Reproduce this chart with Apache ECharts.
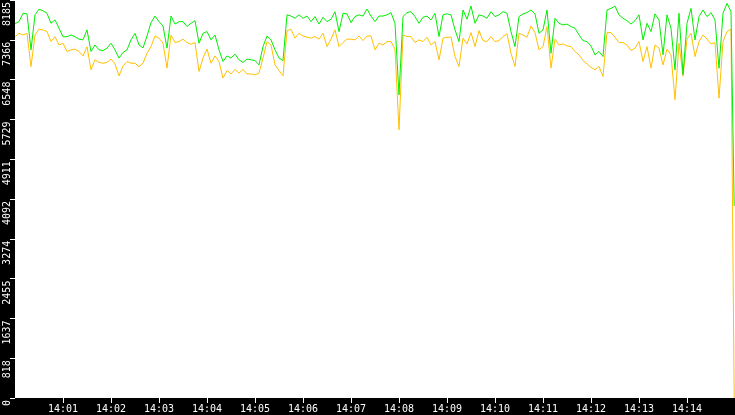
<!DOCTYPE html>
<html>
<head>
<meta charset="utf-8">
<script src="https://cdn.jsdelivr.net/npm/echarts@6/dist/echarts.min.js"></script>
<style>
  html, body { margin: 0; padding: 0; background: #000; }
  #main { width: 735px; height: 415px; }
</style>
</head>
<body>
<div id="main"></div>
<script>
// seconds after 14:00:00, one sample every 5 s
var sampleStep = 5;
var xMax = 900;

// upper line (green)
var greenValues = [
  7700, 7740, 7910, 7900, 7160, 7880, 7995, 7965, 7910, 7705,
  7775, 7605, 7430, 7430, 7465, 7430, 7380, 7365, 7570, 7125,
  7260, 7160, 7145, 7195, 7295, 7160, 6990, 7105, 7160, 7365,
  7500, 7260, 7200, 7445, 7720, 7855, 7740, 7650, 7195, 7855,
  7690, 7740, 7740, 7640, 7705, 7760, 7295, 7500, 7535, 7365,
  7465, 7160, 6920, 7035, 6990, 7070, 6955, 6900, 6970, 6955,
  6940, 6850, 7227, 7445, 7365, 7160, 6990, 6940, 7880, 7855,
  7810, 7880, 7810, 7855, 7740, 7845, 7690, 7830, 7740, 7790,
  7945, 7535, 7910, 7900, 7720, 7845, 7880, 7855, 8000, 7855,
  7740, 7855, 7855, 7880, 7925, 7705, 6235, 7843, 7925, 7945,
  7843, 7705, 7830, 7855, 7775, 7910, 7433, 7880, 7900, 7880,
  7570, 7330, 7980, 7790, 8060, 7705, 7880, 7855, 7810, 7945,
  7843, 7880, 7945, 7911, 7535, 7227, 7843, 7900, 7925, 7980,
  7900, 7500, 7570, 7980, 7091, 7810, 7706, 7672, 7690, 7638,
  7604, 7467, 7350, 7330, 7240, 7057, 7125, 7022, 7980, 8014,
  8060, 7880, 7810, 7760, 7690, 7760, 7880, 7364, 7706, 7535,
  7900, 7775, 7057, 7880, 7604, 6749, 7911, 6650, 7706, 8014,
  7364, 7843, 7980, 7843, 7925, 7775, 6783, 7911, 8117, 7945,
  3950
];

// lower line (orange)
var orangeValues = [
  7430, 7500, 7465, 7500, 6815, 7465, 7585, 7570, 7535, 7330,
  7430, 7260, 7295, 7125, 7160, 7175, 7125, 7035, 7225, 6750,
  6955, 6900, 6885, 6900, 6970, 6870, 6625, 6830, 6920, 6885,
  6885, 6815, 6885, 7090, 7225, 7445, 7400, 7295, 6785, 7465,
  7310, 7330, 7380, 7310, 7275, 7310, 6715, 6990, 7175, 6885,
  7035, 6920, 6580, 6735, 6665, 6760, 6680, 6760, 6665, 6665,
  6645, 6680, 6990, 7330, 7260, 6850, 6735, 6625, 7555, 7585,
  7400, 7500, 7445, 7420, 7400, 7433, 7380, 7500, 7227, 7380,
  7570, 7227, 7310, 7380, 7380, 7365, 7445, 7350, 7445, 7445,
  7160, 7296, 7260, 7330, 7330, 7175, 5517, 7465, 7433, 7433,
  7310, 7365, 7330, 7420, 7260, 7330, 6955, 7400, 7420, 7420,
  7022, 6817, 7400, 7282, 7515, 7227, 7555, 7350, 7330, 7433,
  7330, 7350, 7433, 7490, 7090, 6817, 7500, 7465, 7420, 7650,
  7515, 7159, 7227, 7638, 6785, 7380, 7260, 7282, 7240, 7227,
  7125, 7057, 6940, 6870, 6800, 6750, 6817, 6612, 7515, 7515,
  7420, 7310, 7310, 7260, 7145, 7195, 7330, 6920, 7227, 6785,
  7260, 7195, 6850, 7175, 7057, 6133, 7296, 6620, 7380, 7500,
  7022, 7330, 7465, 7380, 7282, 7310, 6167, 7330, 7535, 7585,
  0
];

var yMax = 8185;
var yStep = 818.5;

function toPairs(values) {
  var out = [];
  for (var i = 0; i < values.length; i++) {
    // last sample sits just inside the right edge
    out.push([Math.min(i * sampleStep, xMax - 1), values[i]]);
  }
  return out;
}

var myChart = echarts.init(document.getElementById('main'));
myChart.setOption({
  animation: false,
  backgroundColor: '#000',
  grid: {
    left: 15, right: 0, top: 0, bottom: 17,
    outerBoundsMode: 'none',
    containLabel: false,
    show: true, backgroundColor: '#fff', borderWidth: 0
  },
  xAxis: {
    type: 'value',
    min: 0,
    max: xMax,
    interval: 60,
    axisLine: { show: false },
    splitLine: { show: false },
    axisTick: { show: true, length: 5, lineStyle: { color: '#fff' } },
    axisLabel: {
      color: '#fff',
      fontFamily: 'DejaVu Sans Mono',
      fontSize: 10,
      margin: 6,
      showMinLabel: false,
      showMaxLabel: false,
      formatter: function (v) {
        var m = Math.round(v / 60);
        return '14:' + (m < 10 ? '0' + m : m);
      }
    }
  },
  yAxis: {
    type: 'value',
    min: 0,
    max: yMax,
    interval: yStep,
    axisLine: { show: false },
    splitLine: { show: false },
    axisTick: { show: true, length: 5, lineStyle: { color: '#fff' } },
    axisLabel: {
      color: '#fff',
      fontFamily: 'DejaVu Sans Mono',
      fontSize: 10,
      rotate: 90,
      align: 'right',
      verticalAlign: 'middle',
      padding: [0, 2, 0, 0],
      margin: 8,
      formatter: function (v) { return String(Math.floor(v + 0.01)); }
    }
  },
  series: [
    {
      name: 'orange',
      type: 'line',
      data: toPairs(orangeValues),
      showSymbol: false,
      lineStyle: { color: '#ffc000', width: 1 },
      itemStyle: { color: '#ffc000' }
    },
    {
      name: 'green',
      type: 'line',
      data: toPairs(greenValues),
      showSymbol: false,
      lineStyle: { color: '#00ee00', width: 1 },
      itemStyle: { color: '#00ee00' }
    }
  ]
});
</script>
</body>
</html>
